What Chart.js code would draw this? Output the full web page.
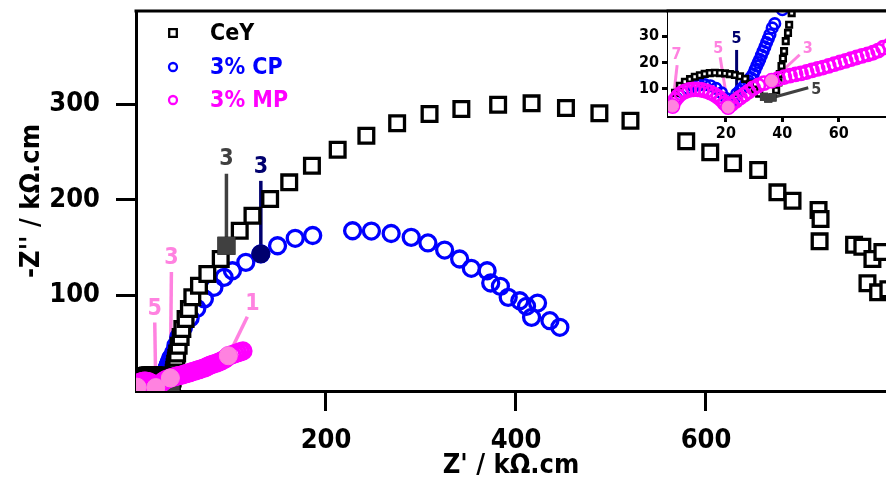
<!DOCTYPE html>
<html><head><meta charset="utf-8">
<script src="https://cdn.jsdelivr.net/npm/chart.js@4/dist/chart.umd.min.js"></script>
<style>
html,body{margin:0;padding:0;background:#fff;overflow:hidden;}
#wrap{position:relative;width:886px;height:479px;}
#main{position:absolute;left:0;top:0;}
#inset{position:absolute;left:610px;top:0;}
</style></head><body>
<div id="wrap"><canvas id="main" width="886" height="479"></canvas><canvas id="inset" width="276" height="150"></canvas></div>
<script>
// ---------------- DATA ----------------
const seriesNames = ['CeY', '3% CP', '3% MP'];

const cey_x = [0.8,2.0,3.7,5.5,7.3,9.0,10.8,12.5,14.3,16.1,17.9,19.7,21.4,23.2,25.0,26.8,28.5,30.2,31.8,33.5,35.0,36.5,37.8,38.6,39.1,39.7,40.2,40.6,41.2,42.0,42.4,43.3,44.9,47.0,48.8,52.2,55.7,59.3,66.3,75.1,89.2,95.2,109.2,122.6,141.2,161.3,185.2,212.3,242.5,274.9,309.0,342.5,381.2,416.4,452.6,487.8,520.5,579.2,604.5,628.5,654.9,675.2,691.1,718.5,720.6,719.6,755.9,764.6,775.2,785.7,770.0,781.2,792.0];
const cey_y = [4.0,8.5,11.2,12.7,13.7,14.6,15.2,15.7,16.0,16.1,16.0,15.9,15.6,15.3,14.8,13.8,11.9,9.8,8.2,7.0,6.4,6.8,9.5,12.5,15.6,18.7,21.5,24.3,28.1,31.2,34.3,38.7,46.9,56.0,64.4,74.9,85.3,97.6,109.7,122.0,137.7,151.6,167.3,183.0,200.5,218.0,235.4,252.1,266.8,279.8,289.5,294.8,299.3,300.7,295.8,290.3,282.5,261.0,249.4,237.9,230.9,207.5,198.7,189.0,179.6,156.2,152.7,150.6,137.7,145.0,112.3,102.8,106.0];

const cp_x = [1.1,2.5,4.5,6.5,8.5,10.5,12.5,14.5,16.5,18.5,20.2,21.5,22.8,23.8,25.0,26.1,27.0,27.9,28.8,29.7,30.3,30.9,31.5,32.0,32.6,33.2,33.8,34.4,35.0,35.6,36.4,37.3,40.0,42.0,45.0,50.0,57.0,64.0,72.0,82.0,92.7,101.5,115.6,131.4,149.0,167.6,186.0,228.0,247.8,268.6,289.7,307.3,324.9,340.7,353.0,369.6,373.4,383.6,391.8,404.0,411.1,422.7,416.4,435.7,446.2];
const cp_y = [3.5,6.5,8.8,10.2,11.0,11.5,11.6,11.2,10.2,8.5,6.3,4.5,6.0,8.1,9.4,10.6,11.9,13.1,14.3,15.6,17.2,18.7,20.0,21.2,22.8,24.3,25.9,27.5,29.0,30.6,33.1,34.7,40.0,47.0,56.0,66.0,76.0,86.0,96.0,108.0,118.5,125.4,134.2,143.1,151.6,159.4,162.3,167.3,167.0,164.4,160.4,154.5,147.1,137.7,128.0,125.4,112.6,109.1,97.6,94.0,88.2,91.6,76.6,73.1,66.2];

const mp_x = [1.1,2.0,3.0,4.2,5.5,7.0,8.5,10.0,11.5,13.0,14.5,16.0,17.3,18.5,19.6,20.8,22.0,23.5,25.0,26.5,28.0,29.7,31.5,33.5,36.2,38.5,40.7,42.7,44.7,46.6,48.6,50.5,52.5,54.4,56.4,58.4,60.4,62.4,64.3,66.3,68.2,70.2,72.1,73.9,75.7,78.0,81.0,84.0,87.0,90.0,93.0,95.5,97.2,101.0,104.0,107.0,110.0,112.6];
const mp_y = [3.5,5.8,7.2,8.3,9.1,9.6,9.8,9.8,9.6,9.2,8.6,7.8,6.9,5.8,4.5,3.1,4.2,5.5,6.7,7.8,9.0,10.3,11.3,12.2,13.1,13.8,14.5,15.0,15.5,15.9,16.4,17.0,17.6,18.1,18.7,19.4,20.0,20.6,21.3,21.9,22.5,23.1,23.7,24.5,25.6,26.5,27.5,28.5,29.8,31.0,32.6,34.3,36.4,37.5,38.6,39.6,40.6,41.4];

// highlighted (labelled) points
const ceyHi_x = [95.2, 33.5, 35.0, 36.5];
const ceyHi_y = [151.6, 7.0, 6.3, 6.8];
const cpHi_x = [131.4, 23.8];
const cpHi_y = [143.1, 8.1];
const mpHi_x = [97.2, 36.2, 20.8, 1.1];
const mpHi_y = [36.4, 13.1, 3.1, 3.5];

// tick values
const mainXTicks = [200, 400, 600];
const mainYTicks = [100, 200, 300];
const insetXTicks = [20, 40, 60];
const insetYTicks = [10, 20, 30];

// label texts
const mainNoteTexts = ['3', '3', '3', '5', '1'];
const insetNoteTexts = ['7', '5', '5', '3', '5'];

// ---------------- STYLE ----------------
const FONT = "'DejaVu Sans Condensed', 'DejaVu Sans', sans-serif";
const BLACK = '#000000', BLUE = '#0000ff', MAG = '#ff00ff';
const GRAY = '#404040', NAVY = '#00006e', PINK = '#ff82e0';

const pts = (xs, ys) => xs.map((x, i) => ({x: x, y: ys[i]}));
const SER = {
  cey: {x: cey_x, y: cey_y}, cp: {x: cp_x, y: cp_y}, mp: {x: mp_x, y: mp_y},
  ceyHi: {x: ceyHi_x, y: ceyHi_y}, cpHi: {x: cpHi_x, y: cpHi_y}, mpHi: {x: mpHi_x, y: mpHi_y}
};

// note placement (pixel offsets from the point): text offset, line start offset
const mainNotes = [
  {s:'ceyHi', i:0, c:GRAY, tdx:0, tdy:-87, ldx:0, ldy:-72},
  {s:'cpHi', i:0, c:NAVY, tdx:0, tdy:-87, ldx:0, ldy:-73},
  {s:'mpHi', i:1, c:PINK, tdx:1, tdy:-120, ldx:1, ldy:-106},
  {s:'mpHi', i:2, c:PINK, tdx:-1, tdy:-79, ldx:-1, ldy:-65},
  {s:'mpHi', i:0, c:PINK, tdx:24, tdy:-52, ldx:19, ldy:-39}
].map((n, k) => Object.assign(n, {t: mainNoteTexts[k]}));
const insetNotes = [
  {s:'mpHi', i:3, c:PINK, tdx:4, tdy:-51, ldx:4.6, ldy:-41},
  {s:'mpHi', i:2, c:PINK, tdx:-10, tdy:-58, ldx:-8, ldy:-50},
  {s:'cpHi', i:1, c:NAVY, tdx:0, tdy:-55, ldx:0, ldy:-44},
  {s:'mpHi', i:1, c:PINK, tdx:36, tdy:-32, ldx:28, ldy:-26},
  {s:'ceyHi', i:2, c:GRAY, tdx:48, tdy:-9, ldx:40, ldy:-11}
].map((n, k) => Object.assign(n, {t: insetNoteTexts[k]}));

function notePx(chart, n) {
  const s = SER[n.s];
  return [chart.scales.x.getPixelForValue(s.x[n.i]), chart.scales.y.getPixelForValue(s.y[n.i])];
}
function drawLines(chart, notes, lw) {
  const ctx = chart.ctx; ctx.save();
  ctx.lineCap = 'butt';
  notes.forEach(n => {
    const [px, py] = notePx(chart, n);
    ctx.strokeStyle = n.c; ctx.lineWidth = lw;
    ctx.beginPath(); ctx.moveTo(px + n.ldx, py + n.ldy); ctx.lineTo(px, py); ctx.stroke();
  });
  ctx.restore();
}
function drawTexts(chart, notes, size) {
  const ctx = chart.ctx; ctx.save();
  ctx.font = 'bold ' + size + 'px ' + FONT;
  ctx.textAlign = 'center'; ctx.textBaseline = 'middle';
  notes.forEach(n => {
    const [px, py] = notePx(chart, n);
    ctx.fillStyle = n.c; ctx.fillText(n.t, px + n.tdx, py + n.tdy);
  });
  ctx.restore();
}
function topBorder(chart, lw) {
  const a = chart.chartArea, ctx = chart.ctx; ctx.save();
  ctx.strokeStyle = '#000'; ctx.lineWidth = lw;
  ctx.beginPath(); ctx.moveTo(a.left - lw / 2, a.top); ctx.lineTo(a.right + 2, a.top); ctx.stroke();
  ctx.restore();
}

function makeDatasets(sz) {
  return [
    {label:'mpHi', data: pts(mpHi_x, mpHi_y), pointStyle:'circle', pointRadius: sz.hiC, pointBorderWidth: 1,
     pointBackgroundColor: PINK, pointBorderColor: PINK, showLine:false, clip: 0},
    {label: seriesNames[2], data: pts(mp_x, mp_y), pointStyle:'circle', pointRadius: sz.mp, pointBorderWidth: sz.bw,
     pointBackgroundColor:'rgba(0,0,0,0)', pointBorderColor: MAG, showLine:false, clip: 0},
    {label:'ceyHi', data: pts(ceyHi_x, ceyHi_y), pointStyle:'rect', pointRadius: sz.sq, pointBorderWidth: sz.bw,
     pointBackgroundColor: GRAY, pointBorderColor: GRAY, showLine:false, clip: 0},
    {label: seriesNames[0], data: pts(cey_x, cey_y), pointStyle:'rect', pointRadius: sz.sq, pointBorderWidth: sz.bw,
     pointBackgroundColor:'#ffffff', pointBorderColor: BLACK, showLine:false, clip: 0},
    {label:'cpHi', data: pts(cpHi_x, cpHi_y), pointStyle:'circle', pointRadius: sz.hiN, pointBorderWidth: 1,
     pointBackgroundColor: NAVY, pointBorderColor: NAVY, showLine:false, clip: 0},
    {label: seriesNames[1], data: pts(cp_x, cp_y), pointStyle:'circle', pointRadius: sz.cp, pointBorderWidth: sz.bw,
     pointBackgroundColor:'rgba(0,0,0,0)', pointBorderColor: BLUE, showLine:false, clip: 0}
  ];
}

function axisOpts(o) {
  return {
    type:'linear', min:o.min, max:o.max,
    afterBuildTicks: s => { s.ticks = o.ticks.map(v => ({value: v})); },
    afterFit: s => { o.fit(s); s.paddingTop = 0; s.paddingBottom = 0; s.paddingLeft = 0; s.paddingRight = 0; },
    grid: {display:true, drawOnChartArea:false, drawTicks:true, tickLength:o.tl, tickWidth:o.tw, tickColor:'#000', color:'#000'},
    border: {display:true, width:o.bw, color:'#000'},
    ticks: {color:'#000', font:{family:FONT, size:o.fs, weight:'bold'}, padding:o.pad, maxRotation:0, autoSkip:false, callback: v => String(v)},
    title: o.title ? {display:true, text:o.title, color:'#000', font:{family:FONT, size:o.fs, weight:'bold', lineHeight:1}, padding:o.tpad} : {display:false}
  };
}

// ---------------- MAIN CHART ----------------
new Chart(document.getElementById('main'), {
  type:'scatter',
  data:{datasets: makeDatasets({sq:10.4, mp:8, cp:8, bw:3.3, hiC:9, hiN:9})},
  options:{
    responsive:false, animation:false, devicePixelRatio:1,
    layout:{autoPadding:false, padding:{top:11, left:0, right:0, bottom:0}},
    plugins:{legend:{display:false}, tooltip:{enabled:false}},
    scales:{
      x: axisOpts({min:0, max:789.5, ticks:mainXTicks, fit: s => { s.height = 88; }, tl:20, tw:3, bw:3, fs:27, pad:14,
                   title:"Z' / k\u03A9.cm", tpad:{top:0, bottom:0}}),
      y: axisOpts({min:-0.5, max:397.4, ticks:mainYTicks, fit: s => { s.width = 136; }, tl:20, tw:3, bw:3, fs:27, pad:16,
                   title:"-Z'' / k\u03A9.cm", tpad:{top:18, bottom:0}})
    }
  },
  plugins:[{
    id:'mainDeco',
    beforeDatasetsDraw(chart){ drawLines(chart, mainNotes, 3.5); },
    afterDatasetsDraw(chart){ drawTexts(chart, mainNotes, 23); },
    afterDraw(chart){
      topBorder(chart, 3);
      const ctx = chart.ctx; ctx.save();
      const rows = [33, 67, 100];
      const dsIdx = [3, 5, 1];
      ctx.font = 'bold 23px ' + FONT; ctx.textAlign = 'left'; ctx.textBaseline = 'middle';
      dsIdx.forEach((di, k) => {
        const ds = chart.data.datasets[di];
        const y = rows[k], x = 173;
        ctx.lineWidth = 2.3; ctx.strokeStyle = ds.pointBorderColor;
        ctx.beginPath();
        if (ds.pointStyle === 'rect') ctx.rect(x - 3.8, y - 3.8, 7.6, 7.6);
        else ctx.arc(x, y, 4, 0, Math.PI * 2);
        ctx.stroke();
        ctx.fillStyle = ds.pointBorderColor;
        ctx.fillText(ds.label, 210, y + 1);
      });
      ctx.restore();
    }
  }]
});

// ---------------- INSET CHART ----------------
new Chart(document.getElementById('inset'), {
  type:'scatter',
  data:{datasets: makeDatasets({sq:3.9, mp:6.6, cp:5.3, bw:2.6, hiC:6, hiN:3})},
  options:{
    responsive:false, animation:false, devicePixelRatio:1,
    layout:{autoPadding:false, padding:{top:11, left:0, right:0, bottom:0}},
    plugins:{legend:{display:false}, tooltip:{enabled:false}},
    scales:{
      x: axisOpts({min:-0.5, max:76.7, ticks:insetXTicks, fit: s => { s.height = 34; }, tl:6, tw:3, bw:3, fs:16, pad:2}),
      y: axisOpts({min:-0.25, max:39.5, ticks:insetYTicks, fit: s => { s.width = 58; }, tl:6, tw:3, bw:3, fs:16, pad:3})
    }
  },
  plugins:[{
    id:'insetDeco',
    beforeDatasetsDraw(chart){
      const a = chart.chartArea, ctx = chart.ctx;
      ctx.save(); ctx.fillStyle = '#fff'; ctx.fillRect(a.left, a.top, a.right - a.left, a.bottom - a.top); ctx.restore();
      drawLines(chart, insetNotes, 3);
    },
    afterDatasetsDraw(chart){ drawTexts(chart, insetNotes, 16); },
    afterDraw(chart){ topBorder(chart, 3); }
  }]
});
</script>
</body></html>
